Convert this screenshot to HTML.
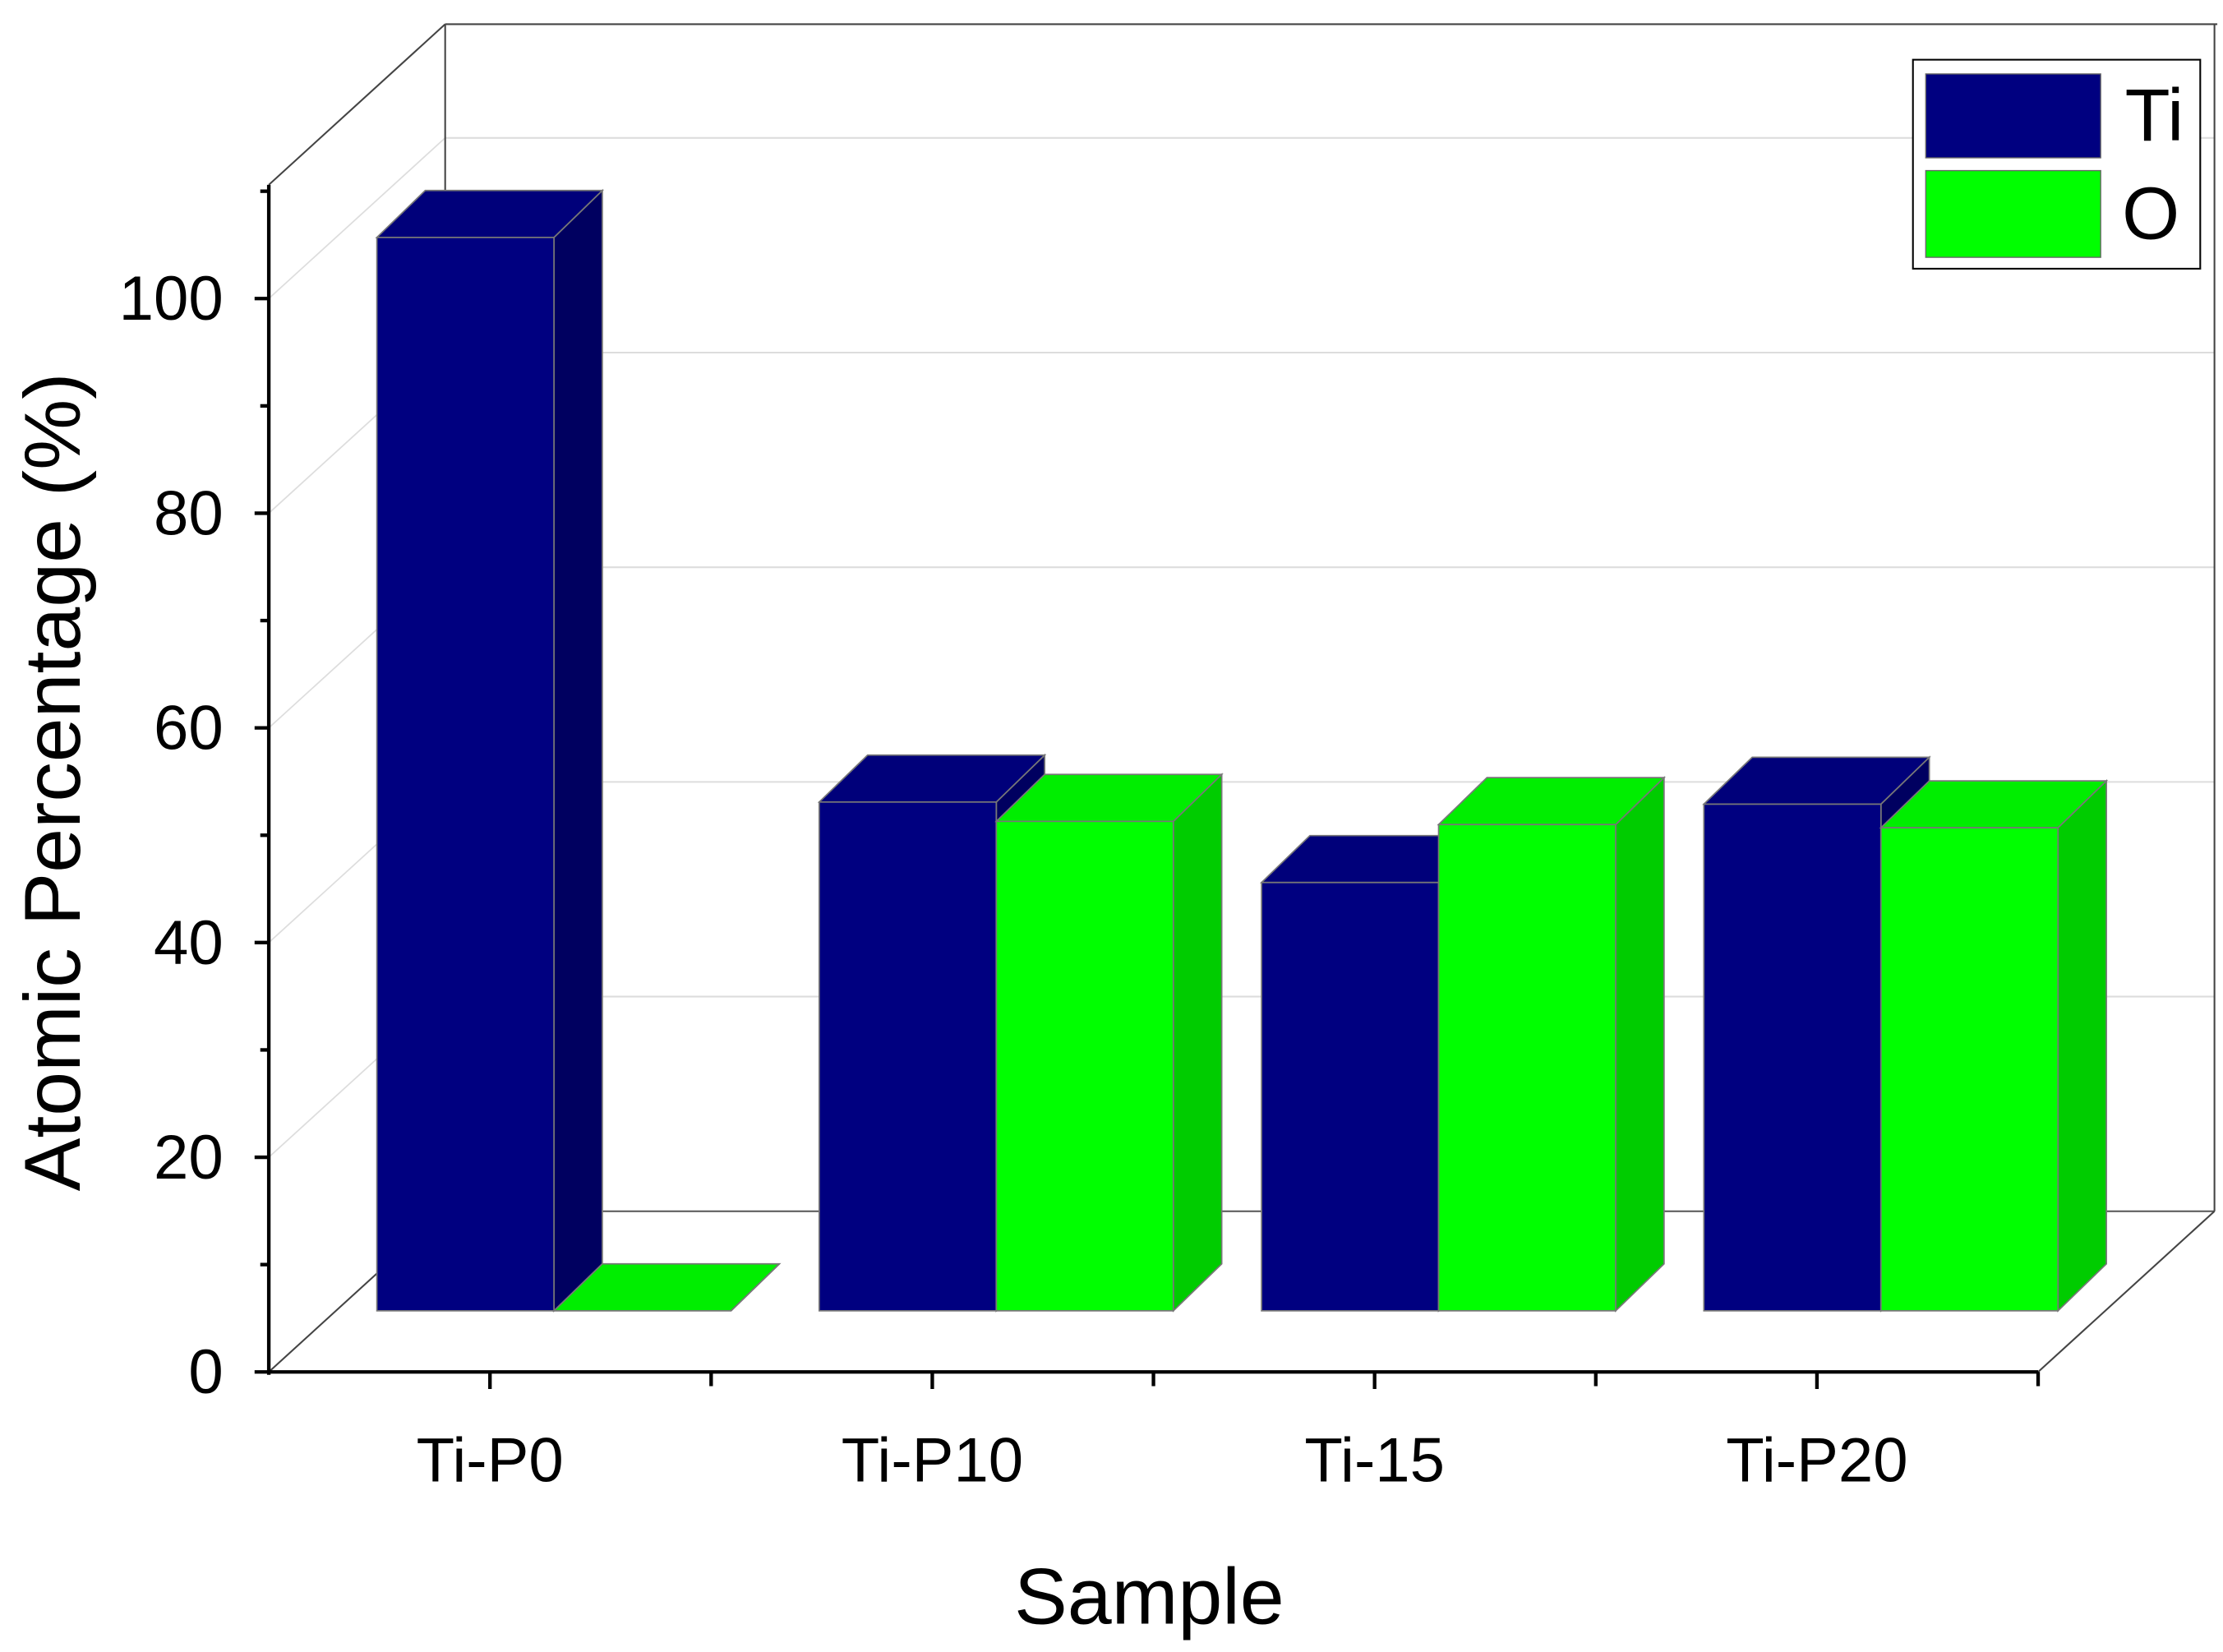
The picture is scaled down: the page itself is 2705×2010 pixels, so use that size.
<!DOCTYPE html>
<html><head><meta charset="utf-8"><style>
html,body{margin:0;padding:0;background:#fff;}
svg{display:block;}
text{font-family:"Liberation Sans",Arial,sans-serif;fill:#000;}
</style></head><body>
<svg id="chart" width="2705" height="2010" viewBox="0 0 1563 1162" preserveAspectRatio="none" xmlns="http://www.w3.org/2000/svg">
<g id="walls"></g>
<g id="bars"></g>
<g id="axes"></g>
<g>
<rect x="1345" y="42" width="202" height="147" fill="#fff" stroke="#000" stroke-width="1.2"/>
<rect x="1354" y="52" width="123" height="59" fill="#000080" stroke="#666" stroke-width="0.8"/>
<rect x="1354" y="120" width="123" height="61" fill="#00ff00" stroke="#666" stroke-width="0.8"/>
<text x="1494" y="99" font-size="52">Ti</text>
<text x="1492" y="168" font-size="52">O</text>
</g>
<text x="808" y="1142" font-size="56" text-anchor="middle">Sample</text>
<text transform="translate(56,550) rotate(-90)" font-size="56" text-anchor="middle">Atomic Percentage (%)</text>
</svg>
<script>
const categories = ["Ti-P0","Ti-P10","Ti-15","Ti-P20"];
const tiValues = [100, 47.4, 39.9, 47.2];
const oValues = [0, 45.6, 45.3, 45.0];
const yTicks = [0,20,40,60,80,100];

const NS="http://www.w3.org/2000/svg";
function mk(tag,attrs,parent){const e=document.createElementNS(NS,tag);for(const k in attrs)e.setAttribute(k,attrs[k]);parent.appendChild(e);return e;}
const X0=189,X1=1433,Y0=965,YTOP=130,DX=124,DY=-113;
const yFront=v=>Y0-v*7.55;
const catX=i=>X0+155.5*(2*i+1);
const BAR_BASE=922, BAR_SHIFT=45, BW=124.5, BDX=34, BDY=-33;
const yBar=v=>BAR_BASE-v*7.55;

const walls=document.getElementById('walls');
yTicks.forEach(t=>{
  const y=yFront(t)+DY;
  const g=mk('line',{x1:X0+DX,y1:y,x2:X1+DX,y2:y,stroke:t===0?'#555':'#ddd','stroke-width':1.2},walls);
  
  
  if(t>0){const d=mk('line',{x1:X0,y1:yFront(t),x2:X0+DX,y2:y,stroke:'#ddd','stroke-width':1},walls);
  
  }
});
[[X0,YTOP],[X0,Y0],[X1,Y0]].forEach((p,i)=>{
  const l=mk('line',{x1:p[0],y1:p[1],x2:p[0]+DX,y2:p[1]+DY,stroke:'#444','stroke-width':1.2},walls);
  
  
});
const bv=mk('line',{x1:X0+DX,y1:YTOP+DY,x2:X0+DX,y2:Y0+DY,stroke:'#444','stroke-width':1.2},walls);


const bt=mk('line',{x1:X0+DX,y1:YTOP+DY,x2:X1+DX+2,y2:YTOP+DY,stroke:'#444','stroke-width':1.2},walls);


const br=mk('line',{x1:X1+DX,y1:YTOP+DY,x2:X1+DX,y2:Y0+DY,stroke:'#444','stroke-width':1.2},walls);



const bars=document.getElementById('bars');
function bar3d(x,v,front,side,top,name){
  const g=mk('g',{},bars);
  
  
  const yt=yBar(v),yb=BAR_BASE;
  mk('polygon',{points:`${x+BW},${yt} ${x+BW+BDX},${yt+BDY} ${x+BW+BDX},${yb+BDY} ${x+BW},${yb}`,fill:side,stroke:'#777','stroke-width':1},g);
  mk('polygon',{points:`${x},${yt} ${x+BDX},${yt+BDY} ${x+BW+BDX},${yt+BDY} ${x+BW},${yt}`,fill:top,stroke:'#777','stroke-width':1},g);
  if(yb-yt>0.5) mk('rect',{x:x,y:yt,width:BW,height:yb-yt,fill:front,stroke:'#777','stroke-width':1},g);
}
categories.forEach((c,i)=>{
  const cx=catX(i)+BAR_SHIFT;
  bar3d(cx-BW,tiValues[i],'#000080','#000060','#00007a','bar-ti-'+c.toLowerCase());
  bar3d(cx,oValues[i],'#00ff00','#00cc00','#00ee00','bar-o-'+c.toLowerCase());
});

const axes=document.getElementById('axes');
const ya=mk('line',{x1:X0,y1:YTOP,x2:X0,y2:Y0+2,stroke:'#000','stroke-width':2.5},axes);


const xa=mk('line',{x1:X0-1,y1:Y0,x2:X1,y2:Y0,stroke:'#000','stroke-width':2.5},axes);


yTicks.forEach(t=>{
  const y=yFront(t);
  const tk=mk('line',{x1:X0-10,y1:y,x2:X0,y2:y,stroke:'#000','stroke-width':2.5},axes);
  
  
  const m=yFront(t+10);
  if(m>=YTOP){const mt=mk('line',{x1:X0-6,y1:m,x2:X0,y2:m,stroke:'#000','stroke-width':2.5},axes);
  
  }
  const lb=mk('text',{x:X0-32,y:y+15,'font-size':44,'text-anchor':'end'},axes);
  lb.textContent=t;
  
  
});
categories.forEach((c,i)=>{
  const x=catX(i);
  const tk=mk('line',{x1:x,y1:Y0,x2:x,y2:Y0+12,stroke:'#000','stroke-width':2.5},axes);
  
  
  const mx=X0+311*(i+1);
  const mt=mk('line',{x1:mx,y1:Y0,x2:mx,y2:Y0+10,stroke:'#000','stroke-width':2.5},axes);
  
  
  const lb=mk('text',{x:x,y:1042,'font-size':44,'text-anchor':'middle'},axes);
  lb.textContent=c;
  
  
});
</script>
</body></html>
